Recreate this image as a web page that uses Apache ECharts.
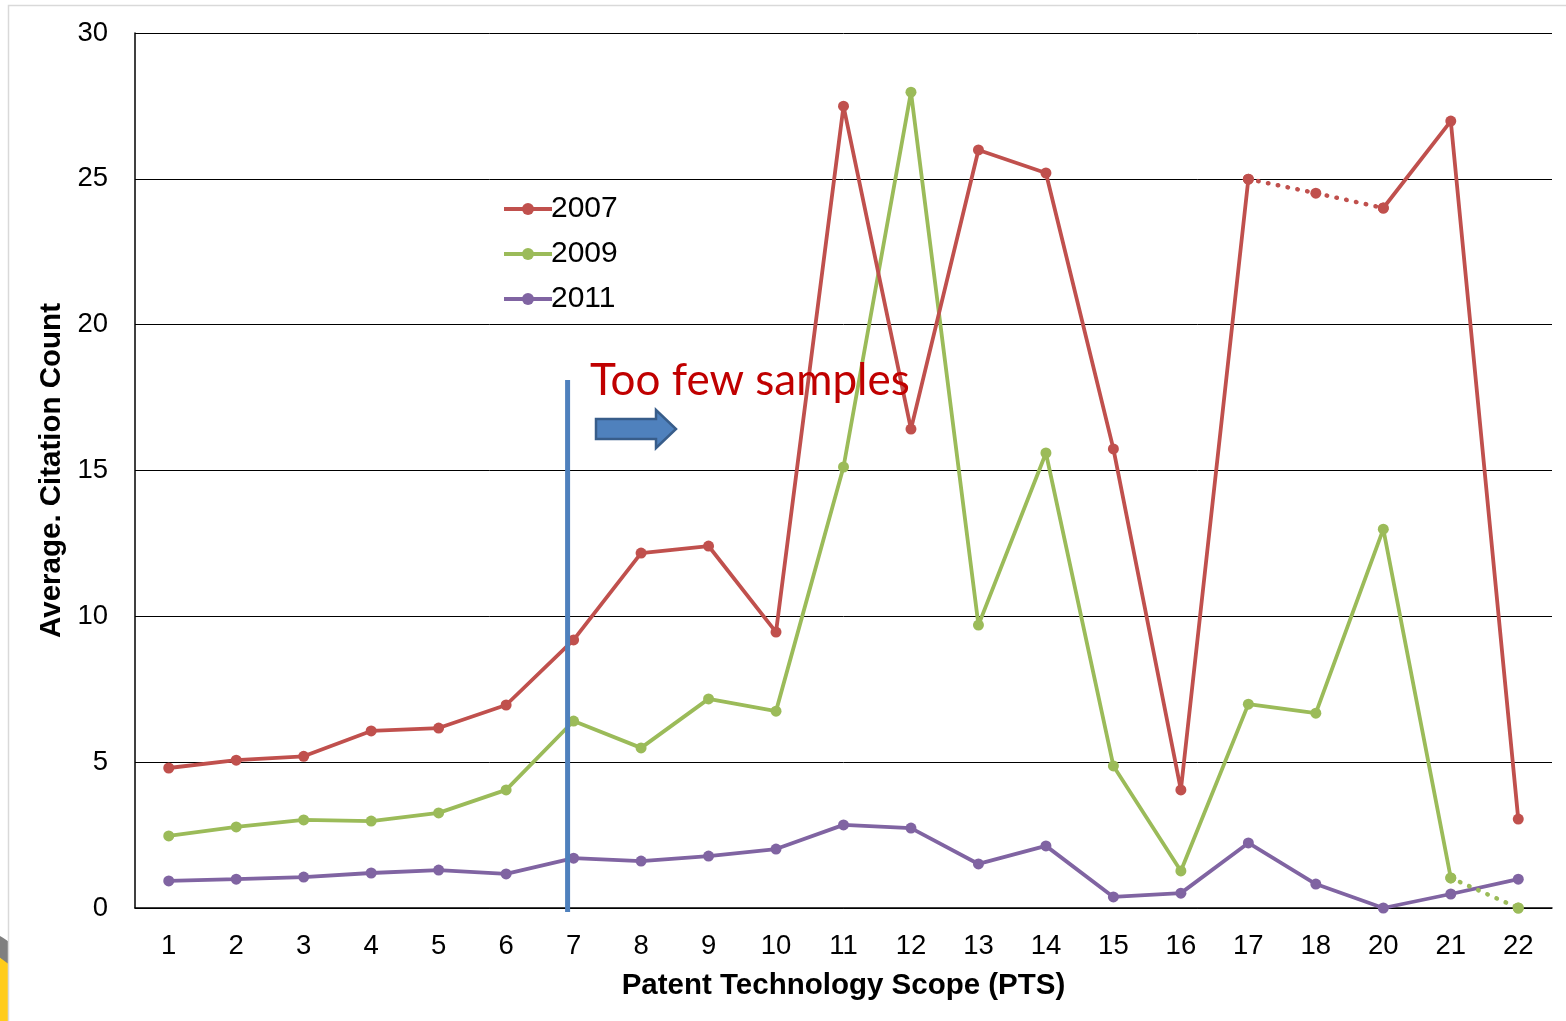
<!DOCTYPE html>
<html>
<head>
<meta charset="utf-8">
<script src="https://cdn.jsdelivr.net/npm/echarts@6/dist/echarts.min.js"></script>
<style>
  html, body { margin: 0; padding: 0; background: #fff; }
  #chart { width: 1566px; height: 1021px; }
</style>
</head>
<body>
<div id="chart"></div>
<script>
// PTS categories (no 19 in the source)
const categories = ['1','2','3','4','5','6','7','8','9','10','11','12','13','14','15','16','17','18','20','21','22']
const yTicks = [0, 5, 10, 15, 20, 25, 30]

const v2007 = [4.8, 5.07, 5.2, 6.07, 6.17, 6.96, 9.19, 12.17, 12.41, 9.46, 27.49, 16.42, 25.99, 25.2, 15.74, 4.05, 24.99, 24.51, 24.0, 26.98, 3.05]
const v2009 = [2.47, 2.78, 3.02, 2.98, 3.26, 4.05, 6.41, 5.49, 7.17, 6.75, 15.12, 27.97, 9.7, 15.6, 4.87, 1.27, 6.99, 6.68, 12.99, 1.03, 0]
const v2011 = [0.93, 0.99, 1.06, 1.2, 1.3, 1.17, 1.71, 1.61, 1.78, 2.02, 2.85, 2.74, 1.51, 2.13, 0.38, 0.51, 2.23, 0.82, 0, 0.48, 0.99]

// gaps drawn dotted: 2007 from 17 to 20, 2009 from 21 to 22
const dotted2007 = ['17', '18', '20']
const dotted2009 = ['21', '22']

// "too few samples" divider, drawn a little left of category 7
const cutCategory = '7'
const cutTop = 18.1

const colors = { '2007': '#C0504D', '2009': '#9BBB59', '2011': '#8064A2' }

function solidPart(values, dottedCats) {
    // keep the ends of the dotted run, blank the inner points
    return values.map((v, i) => {
        const k = dottedCats.indexOf(categories[i])
        if (k > 0 && k < dottedCats.length - 1) return null
        return v
    })
}
function dottedPart(values, dottedCats) {
    return values.map((v, i) => dottedCats.indexOf(categories[i]) >= 0 ? v : null)
}
// split solid series so the line breaks across the dotted run
function breakSolid(values, dottedCats) {
    const s = solidPart(values, dottedCats)
    if (dottedCats.length === 2) {
        const a = categories.indexOf(dottedCats[0])
        const b = categories.indexOf(dottedCats[1])
        const first = s.map((v, i) => i <= a ? v : null)
        const second = s.map((v, i) => i >= b ? v : null)
        return [first, second]
    }
    return [s]
}

const chart = echarts.init(document.getElementById('chart'))

function lineSeries(name, data, dotted) {
    const c = colors[name.trim()]
    return {
        name: name,
        type: 'line',
        data: data,
        connectNulls: false,
        symbol: 'circle',
        symbolSize: 11,
        showAllSymbol: true,
        animation: false,
        itemStyle: { color: c },
        lineStyle: dotted
            ? { width: 4.5, color: c, type: [0.5, 9.5], cap: 'round' }
            : { width: 3.8, color: c },
        z: 3,
    }
}

const parts2009 = breakSolid(v2009, dotted2009)

const option = {
    backgroundColor: '#fff',
    textStyle: { fontFamily: 'Liberation Sans, Arial, sans-serif' },
    grid: { left: 135, right: 14, top: 33, bottom: 113, containLabel: false },
    legend: {
        data: ['2007', '2009', '2011'],
        orient: 'vertical',
        left: 497,
        top: 189,
        itemWidth: 48,
        itemHeight: 15,
        itemGap: 15,
        lineStyle: { width: 4 },
        textStyle: { fontSize: 30, color: '#000', padding: [0, 0, 0, -6] },
    },
    xAxis: {
        type: 'category',
        data: categories,
        boundaryGap: true,
        axisLine: { lineStyle: { color: '#000', width: 1.5 } },
        axisTick: { show: false },
        axisLabel: { fontSize: 27.5, color: '#000', margin: 24 },
        name: 'Patent Technology Scope (PTS)',
        nameLocation: 'middle',
        nameGap: 63,
        nameTextStyle: { fontSize: 29.5, fontWeight: 'bold', color: '#000' },
    },
    yAxis: {
        type: 'value',
        min: yTicks[0],
        max: yTicks[yTicks.length - 1],
        interval: 5,
        axisLine: { show: true, lineStyle: { color: '#000', width: 1.5 } },
        axisTick: { show: false },
        splitLine: { lineStyle: { color: '#000', width: 1 } },
        axisLabel: { fontSize: 27.5, color: '#000', margin: 27, padding: [4, 0, 0, 0] },
        name: 'Average. Citation Count',
        nameLocation: 'middle',
        nameGap: 68,
        nameTextStyle: { fontSize: 29.5, fontWeight: 'bold', color: '#000' },
    },
    series: [
        lineSeries('2011', v2011, false),
        lineSeries('2009', parts2009[0], false),
        lineSeries('2009 ', parts2009[1], false),
        lineSeries('2009 ', dottedPart(v2009, dotted2009), true),
        lineSeries('2007', solidPart(v2007, dotted2007), false),
        lineSeries('2007 ', dottedPart(v2007, dotted2007), true),
    ],
    graphic: [
        {
            type: 'circle',
            shape: { cx: -60, cy: 1040, r: 120 },
            style: { fill: '#7f7f7f' },
            z: -3,
        },
        {
            type: 'circle',
            shape: { cx: -60, cy: 1050, r: 110 },
            style: { fill: '#FFCC1A' },
            z: -2,
        },
        {
            type: 'rect',
            shape: { x: 8.5, y: 5.5, width: 1600, height: 1100 },
            style: { fill: '#fff', stroke: '#d9d9d9', lineWidth: 1.5 },
            z: -1,
        },
        {
            type: 'text',
            left: 590,
            top: 359,
            style: {
                text: 'Too few samples',
                fontSize: 44,
                fontFamily: 'Lato, Open Sans, sans-serif',
                fill: '#C00000',
            },
            z: 10,
        },
        {
            type: 'polygon',
            shape: {
                points: [[596, 419], [656, 419], [656, 410], [676, 429], [656, 448], [656, 439], [596, 439]],
            },
            style: { fill: '#4F81BD', stroke: '#385D8A', lineWidth: 2.5 },
            z: 10,
        },
    ],
}

chart.setOption(option)

// divider line: positioned from the axes, nudged 6px left of the category centre
const cutStart = chart.convertToPixel({ gridIndex: 0 }, [cutCategory, cutTop])
const cutEnd = chart.convertToPixel({ gridIndex: 0 }, [cutCategory, 0])
chart.setOption({
    graphic: [{
        id: 'divider',
        type: 'line',
        shape: { x1: cutStart[0] - 6, y1: cutStart[1], x2: cutEnd[0] - 6, y2: cutEnd[1] + 4 },
        style: { stroke: '#4F81BD', lineWidth: 5 },
        z: 5,
    }],
})
</script>
</body>
</html>
